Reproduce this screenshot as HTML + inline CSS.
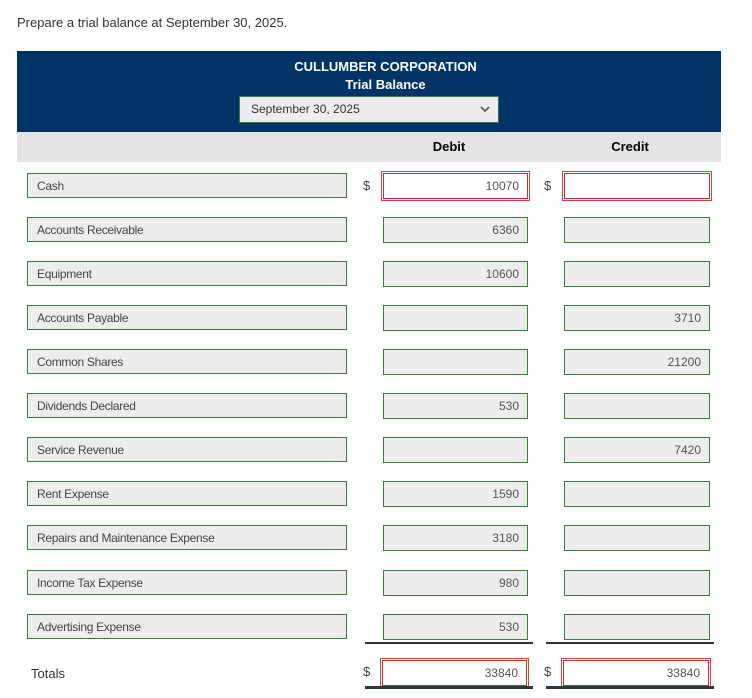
<!DOCTYPE html>
<html><head><meta charset="utf-8"><style>
body{margin:0;width:752px;height:698px;background:#fff;font-family:"Liberation Sans",sans-serif;position:relative;overflow:hidden}
.abs{position:absolute}
.acct{position:absolute;left:27px;height:25px;border:1px solid #3d7a3d;background:#ededed;font-size:12px;color:#444;line-height:25px;padding-left:9px;box-sizing:border-box;width:320px;letter-spacing:-0.3px}
.num{position:absolute;height:26px;border:1px solid #3d7a3d;background:#ededed;box-sizing:border-box;font-size:12px;color:#555;text-align:right;line-height:24px;padding-right:8px}
.red{border:1px solid #b33;background:#fff;outline:1px solid #fff;box-shadow:0 0 0 2px #c44}
.dol{position:absolute;font-size:13px;color:#444}
</style></head><body>
<div class="abs" style="left:17px;top:15px;font-size:13px;color:#333">Prepare a trial balance at September 30, 2025.</div>
<div class="abs" style="left:17px;top:51px;width:704px;height:81px;background:#003366"></div>
<div class="abs" style="left:17px;top:59px;width:737px;text-align:center;color:#fff;font-weight:bold;font-size:13px">CULLUMBER CORPORATION</div>
<div class="abs" style="left:17px;top:77px;width:737px;text-align:center;color:#fff;font-weight:bold;font-size:13px">Trial Balance</div>
<div class="abs" style="left:239px;top:96px;width:260px;height:27px;box-sizing:border-box;border:1px solid #3d7a3d;background:#ededed;font-size:12px;color:#333;line-height:25px;padding-left:11px">September 30, 2025<svg style="position:absolute;right:8px;top:9px" width="10" height="7" viewBox="0 0 10 7"><path d="M1 1 L5 5 L9 1" stroke="#555" stroke-width="1.6" fill="none"/></svg></div>
<div class="abs" style="left:17px;top:132px;width:704px;height:30px;background:#e4e4e4"></div>
<div class="abs" style="left:383px;top:139px;width:132px;text-align:center;font-weight:bold;font-size:13px">Debit</div>
<div class="abs" style="left:564px;top:139px;width:132px;text-align:center;font-weight:bold;font-size:13px">Credit</div>
<div id="rows"></div>
<script>
const accounts=["Cash","Accounts Receivable","Equipment","Accounts Payable","Common Shares","Dividends Declared","Service Revenue","Rent Expense","Repairs and Maintenance Expense","Income Tax Expense","Advertising Expense"];
const debits=["10070","6360","10600","","","530","","1590","3180","980","530"];
const credits=["","","","3710","21200","","7420","","","",""];
const tops=[173,217,261,305,349,393,437,481,525,570,614];
const root=document.getElementById('rows');
function mk(cls,style,txt){const d=document.createElement('div');d.className=cls;d.style.cssText=style;d.textContent=txt;root.appendChild(d);return d;}
accounts.forEach((a,i)=>{
  const t=tops[i];
  const red=i===0?' red':'';
  const e1=mk('acct','top:'+t+'px',a);
  
  
  const e2=mk('num'+red,'left:383px;width:145px;top:'+t+'px',debits[i]);
  
  
  const e3=mk('num'+red,'left:564px;width:146px;top:'+t+'px',credits[i]);
  
  
});
let d;
d=mk('dol','left:363px;top:178px','$');


d=mk('dol','left:544px;top:178px','$');


d=mk('abs','left:365px;top:642px;width:168px;height:2px;background:#333','');


d=mk('abs','left:546px;top:642px;width:168px;height:2px;background:#333','');


d=mk('abs','left:31px;top:666px;font-size:13px;color:#333','Totals');


d=mk('dol','left:363px;top:664px','$');


d=mk('dol','left:544px;top:664px','$');


d=mk('num red','left:382px;width:145px;top:660px','33840');


d=mk('num red','left:563px;width:146px;top:660px','33840');


d=mk('abs','left:365px;top:686px;width:168px;height:3px;background:#2a3a44','');


d=mk('abs','left:546px;top:686px;width:168px;height:3px;background:#2a3a44','');


</script>
</body></html>
